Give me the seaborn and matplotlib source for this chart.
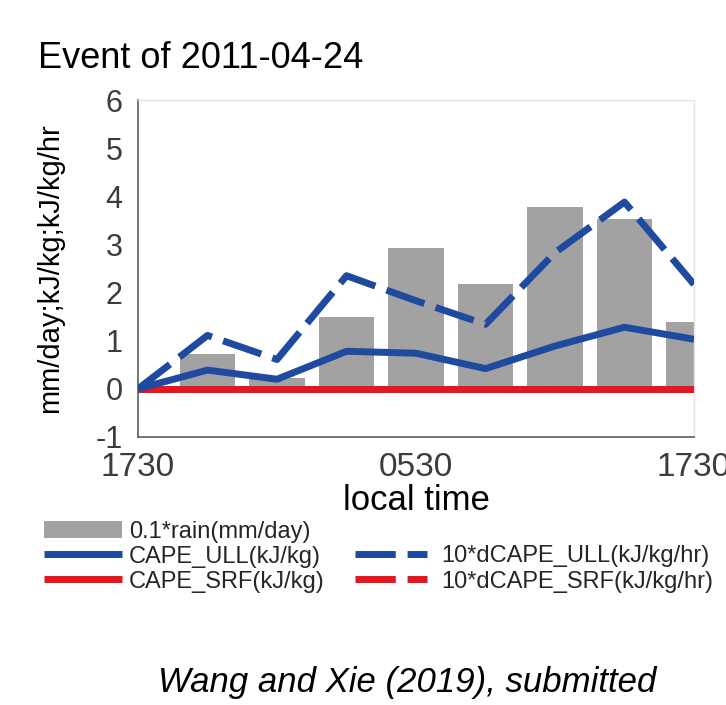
import matplotlib
matplotlib.use("Agg")
import matplotlib.pyplot as plt
from matplotlib import font_manager
from matplotlib.patches import Patch
import seaborn as sns

# 3-hourly samples across one day; axis units: 0 = 1730, 5 = 0530, 10 = 1730
time_pos = [0, 1.25, 2.5, 3.75, 5, 6.25, 7.5, 8.75, 10]
rain = [0.0, 0.72, 0.22, 1.49, 2.92, 2.17, 3.78, 3.53, 1.38]
cape_ull = [0.0, 0.39, 0.20, 0.78, 0.74, 0.42, 0.89, 1.28, 1.03]
dcape_ull = [0.0, 1.11, 0.61, 2.35, 1.83, 1.34, 2.83, 3.88, 2.17]
cape_srf = [0.0, 0.0, 0.0, 0.0, 0.0, 0.0, 0.0, 0.0, 0.0]
dcape_srf = [0.0, 0.0, 0.0, 0.0, 0.0, 0.0, 0.0, 0.0, 0.0]

x_ticks = [0, 1, 2, 3, 4, 5, 6, 7, 8, 9, 10]
x_ticklabels = ["1730", "", "", "", "", "0530", "", "", "", "", "1730"]
y_ticks = [-1, 0, 1, 2, 3, 4, 5, 6]

labels = ["0.1*rain(mm/day)", "CAPE_ULL(kJ/kg)", "CAPE_SRF(kJ/kg)",
          "10*dCAPE_ULL(kJ/kg/hr)", "10*dCAPE_SRF(kJ/kg/hr)"]

GRAY = "#a2a2a2"
BLUE = "#1f4aa0"
RED = "#e5161e"
TICK_COL = "#3c3c3c"
SPINE_COL = "#5c5c5c"

sns.set_style("white")
plt.rcParams["font.family"] = ["Liberation Sans", "DejaVu Sans"]
plt.rcParams["axes.unicode_minus"] = False

installed = {f.name for f in font_manager.fontManager.ttflist}
if "Liberation Sans Narrow" in installed:
    foot_family, foot_size = ["Liberation Sans Narrow", "Liberation Sans"], 29
else:
    foot_family, foot_size = ["Liberation Sans", "DejaVu Sans"], 25

W, H = 726, 705
fig = plt.figure(figsize=(W / 100, H / 100), dpi=100)
ax = fig.add_axes([138 / W, 1 - 437 / H, 556 / W, 337 / H])

sns.barplot(x=time_pos, y=rain, native_scale=True, width=0.8, color=GRAY,
            saturation=1, linewidth=0, ax=ax, zorder=1)

dash = (0, (5.8, 1.7))
sns.lineplot(x=time_pos, y=dcape_srf, color=RED, linewidth=5, linestyle=dash,
             ax=ax, zorder=2)
sns.lineplot(x=time_pos, y=cape_srf, color=RED, linewidth=5, ax=ax, zorder=3)
sns.lineplot(x=time_pos, y=cape_ull, color=BLUE, linewidth=5, ax=ax, zorder=4)
sns.lineplot(x=time_pos, y=dcape_ull, color=BLUE, linewidth=5, linestyle=dash,
             ax=ax, zorder=5)
line_dsrf, line_srf, line_ull, line_dull = ax.lines[-4:]
for ln in ax.lines:
    ln.set_solid_capstyle("butt")
    ln.set_dash_capstyle("butt")

ax.set_xlim(0, 10)
ax.set_ylim(-1, 6)
ax.set_xticks(x_ticks)
ax.set_xticklabels(x_ticklabels)
ax.set_yticks(y_ticks)
ax.tick_params(axis="both", direction="in", length=5, width=1.0,
               color=SPINE_COL, labelcolor=TICK_COL)
ax.tick_params(axis="x", labelsize=24, pad=11)
ax.tick_params(axis="y", labelsize=22, pad=11)

for side in ("left", "bottom"):
    ax.spines[side].set_color(SPINE_COL)
    ax.spines[side].set_linewidth(1.2)
for side in ("top", "right"):
    ax.spines[side].set_color("#e4e4e4")
    ax.spines[side].set_linewidth(1.0)

ax.set_xlabel("local time", fontsize=25, color="black", va="top")
ax.xaxis.set_label_coords(0.5, (437 - 484) / 337)
ax.set_ylabel("mm/day;kJ/kg;kJ/kg/hr", fontsize=21, color="black", va="bottom")
ax.yaxis.set_label_coords((64 - 138) / 556, 0.5)

if ax.get_legend() is not None:
    ax.get_legend().remove()

fig.text(38 / W, 1 - 68 / H, "Event of 2011-04-24", fontsize=26,
         color="black", ha="left", va="baseline")

fs_leg = 17
left_handles = [Patch(facecolor=GRAY, edgecolor="none"), line_ull, line_srf]
leg1 = fig.legend(left_handles, labels[:3], loc="upper left",
                  bbox_to_anchor=(44 / W, 1 - 521 / H), frameon=False,
                  fontsize=fs_leg, handlelength=3.3, handleheight=0.75,
                  handletextpad=0.3, labelspacing=0.12, borderpad=0,
                  borderaxespad=0)
leg2 = fig.legend([line_dull, line_dsrf], labels[3:], loc="upper left",
                  bbox_to_anchor=(355 / W, 1 - 545 / H), frameon=False,
                  fontsize=fs_leg, handlelength=3.05, handletextpad=0.6,
                  labelspacing=0.15, borderpad=0, borderaxespad=0)

fig.text(407 / W, 1 - 692 / H, "Wang and Xie (2019), submitted",
         family=foot_family, style="italic", fontsize=foot_size,
         color="black", ha="center", va="baseline")

fig.savefig("out.png", dpi=100, facecolor="white")
